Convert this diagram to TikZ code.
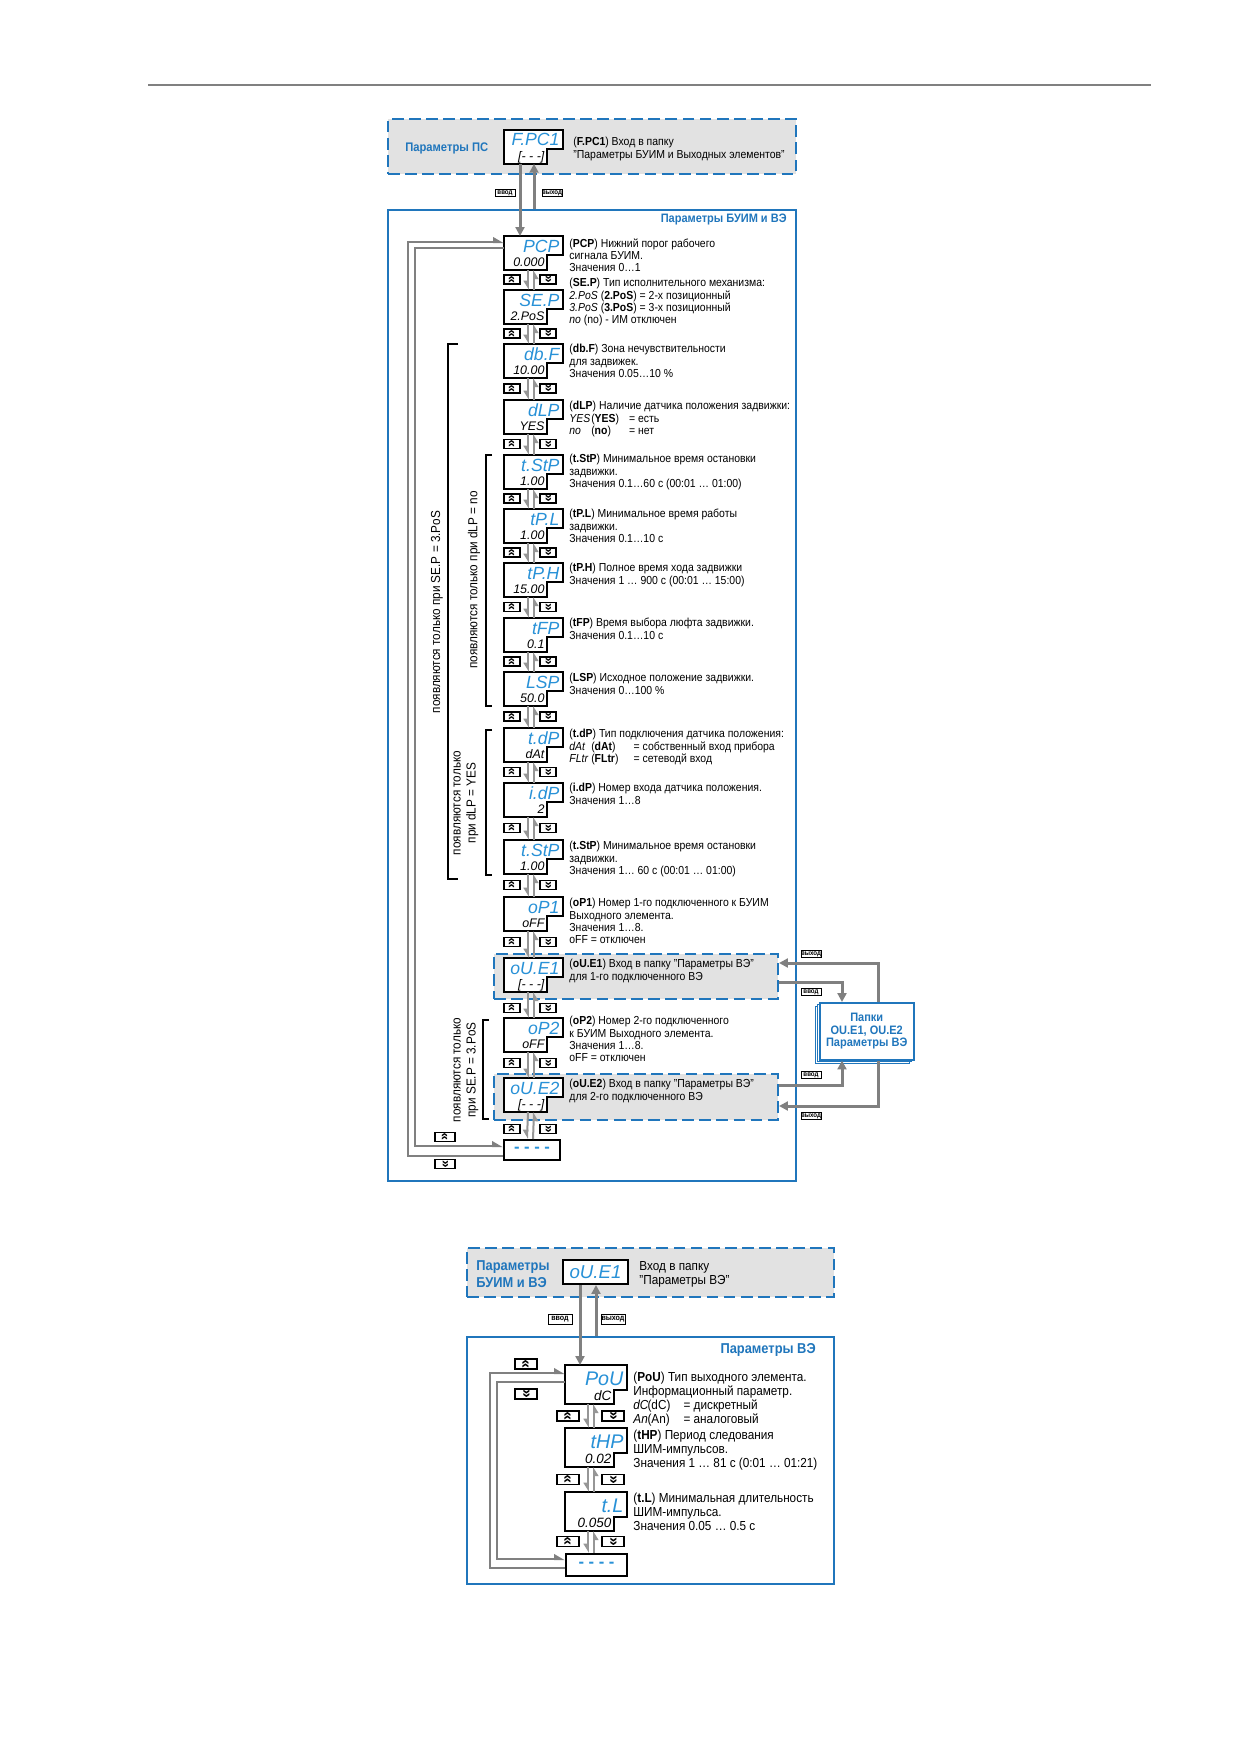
\documentclass[tikz,border=0pt]{standalone}
\usepackage{fontspec}
\setmainfont{Liberation Sans}[FakeStretch=0.9]
\newfontfamily\segfont{Liberation Sans}
\usepackage{graphicx}
\usetikzlibrary{calc}
\usetikzlibrary{arrows.meta}
\newcommand*{\px   }{0.16949mm}
\newcommand*{\lcdw }{58}
\newcommand*{\lcdh }{33}
\newcommand*{\lcdn }{16}
\newcommand*{\lcdu }{19}
\newcommand*{\lcdb }{16}
\newcommand*{\navx }{24}
\newcommand*{\fsz}[2]{\fontsize{#1}{#2}\selectfont}
\newcommand*{\keyup}{\rotatebox{90}{\segfont\bfseries »}}
\newcommand*{\keydn}{\rotatebox{-90}{\segfont\bfseries »}}
\newcommand*{\segc}[1]{\textit{#1}}
\definecolor{owenblue}{RGB}{32,118,188}
\definecolor{segblue}{RGB}{40,145,215}
\definecolor{panelgray}{RGB}{226,226,226}
\definecolor{linegray}{RGB}{128,128,128}
\definecolor{navgray}{RGB}{150,150,150}
\tikzset{
  panel/.style={draw=owenblue, line width=2*\px, inner sep=0, anchor=north west},
  dashpanel/.style={panel, fill=panelgray, dash pattern=on 2mm off 0.9mm},
  lcdframe/.style={rectangle, inner sep=0, minimum width=\lcdw*\px, minimum height=\lcdh*\px},
  lcdedge/.style={draw=black, fill=white, line width=2*\px},
  segup/.style={inner sep=0, text=segblue, font=\segfont\fsz{8.5}{9}\itshape},
  seglow/.style={inner sep=0, font=\segfont\fsz{6}{7}\itshape},
  endbox/.style={draw=black, fill=white, line width=2*\px, anchor=north west, inner sep=0, minimum width=56*\px, minimum height=20*\px, text=segblue, font=\segfont\fsz{8}{8}\bfseries},
  keybtn/.style={draw=black, fill=white, line width=1.2*\px, inner sep=0, minimum width=16*\px, minimum height=9*\px, font=\fsz{6.5}{6.5}},
  keytag/.style={draw=black, fill=white, line width=1*\px, inner sep=0, minimum width=20*\px, minimum height=7*\px, font=\fsz{3.3}{3.4}\bfseries},
  desc/.style={anchor=north west, inner sep=0, align=left},
  navline/.style={draw=navgray, line width=2*\px, -{Triangle[right, length=1.3mm, width=1.5mm]}},
  loopline/.style={draw=linegray, line width=2.5*\px, -{Triangle[left, length=1.5mm, width=1.6mm]}},
  bigarrow/.style={draw=linegray, line width=3*\px, -{Triangle[length=1.5mm, width=1.5mm]}},
  bracket/.style={draw=black, line width=2*\px},
  sidenote/.style={rotate=90, align=center, inner sep=0, font=\fsz{6.3}{7.2}},
  folderbox/.style={draw=owenblue, fill=white, line width=1*\px, anchor=north west, inner sep=0, minimum width=94*\px, minimum height=57*\px},
}
\newcommand{\lcdbox}[5]{%
  \node[lcdframe, anchor=north west] (#1) at (#2,#3) {};
  \draw[lcdedge] (#1.north west) -- (#1.north east) -- ++(0,\lcdu) -- ++(-\lcdn,0) |- (#1.south west) -- cycle;
  \node[segup, anchor=base east] (#1up) at ($(#1.north east)+(-3,\lcdb)$) {#4};
  \node[seglow, anchor=base east] (#1lo) at ($(#1.south east)+(-\lcdn-2,-3)$) {#5};
}
\newcommand{\keypair}[4]{%
  \node[keybtn] (#1u) at (#2,#4) {\keyup};
  \node[keybtn] (#1d) at (#3,#4) {\keydn};
}
\newcommand{\navlink}[2]{%
  \draw[navline] ($(#1.south west)+(\navx,0)$) -- ($(#2.north west)+(\navx,0)$);
  \draw[navline] ($(#2.north west)+(\navx+6,0)$) -- ($(#1.south west)+(\navx+6,0)$);
}

\begin{document}
\begin{tikzpicture}[x=\px, y=-\px, font=\fsz{5.6}{5.95}]
    \fill[white] (0,0) rectangle (1239,1752);
    \useasboundingbox (0,0) rectangle (1239,1752);
    \draw[linegray, line width=2*\px] (148,85) -- (1151,85);

    \node[dashpanel, minimum width=408*\px, minimum height=55*\px] (pcbox) at (387,118) {};
    \node[anchor=west, text=owenblue, font=\fsz{6}{6.5}\bfseries] (pctitle) at (398,148) {Параметры ПС};
    \node[panel, minimum width=408*\px, minimum height=971*\px] (buim) at (387,209) {};
    \node[anchor=north east, inner sep=0, text=owenblue, font=\fsz{5.9}{6.5}\bfseries] (buimtitle) at (787,214) {Параметры БУИМ и ВЭ};
    \node[dashpanel, minimum width=284*\px, minimum height=45*\px] (ouebox1) at (493,953) {};
    \node[dashpanel, minimum width=284*\px, minimum height=46*\px] (ouebox2) at (493,1073) {};

    \lcdbox{fpc}{504}{130}{F.PC1}{[- - -]}
    \lcdbox{pcp}{504}{236}{PCP}{0.000}
    \lcdbox{sep}{504}{290}{SE.P}{2.PoS}
    \lcdbox{dbf}{504}{344}{db.F}{10.00}
    \lcdbox{dlp}{504}{400}{dLP}{YES}
    \lcdbox{tstp}{504}{455}{t.StP}{1.00}
    \lcdbox{tpl}{504}{509}{tP.L}{1.00}
    \lcdbox{tph}{504}{563}{tP.H}{15.00}
    \lcdbox{tfp}{504}{618}{tFP}{0.1}
    \lcdbox{lsp}{504}{672}{LSP}{50.0}
    \lcdbox{tdp}{504}{728}{t.dP}{dAt}
    \lcdbox{idp}{504}{783}{i.dP}{2}
    \lcdbox{tstpb}{504}{840}{t.StP}{1.00}
    \lcdbox{opa}{504}{897}{oP1}{oFF}
    \lcdbox{ouea}{504}{958}{oU.E1}{[- - -]}
    \lcdbox{opb}{504}{1018}{oP2}{oFF}
    \lcdbox{oueb}{504}{1078}{oU.E2}{[- - -]}
    \node[endbox] (enda) at (503,1139) {- - - -};

    \node[desc] (fpcd) at (573,137) {(\textbf{F.PC1}) Вход в папку\\"Параметры БУИМ и Выходных элементов"};
    \node[desc] (pcpd) at (569,238) {(\textbf{PCP}) Нижний порог рабочего\\сигнала БУИМ.\\Значения 0…1};
    \node[desc] (sepd) at (569,278) {(\textbf{SE.P}) Тип исполнительного механизма:\\\segc{2.PoS} (\textbf{2.PoS}) = 2-х позиционный\\\segc{3.PoS} (\textbf{3.PoS}) = 3-х позиционный\\\segc{no} (no) - ИМ отключен};
    \node[desc] (dbfd) at (569,344) {(\textbf{db.F}) Зона нечувствительности\\для задвижек.\\Значения 0.05…10 \%};
    \node[desc] (dlpd) at (569,401) {(\textbf{dLP}) Наличие датчика положения задвижки:\\\makebox[3.7mm][l]{\segc{YES}}\makebox[6.4mm][l]{(\textbf{YES})}= есть\\\makebox[3.7mm][l]{\segc{no}}\makebox[6.4mm][l]{(\textbf{no})}= нет};
    \node[desc] (tstpd) at (569,454) {(\textbf{t.StP}) Минимальное время остановки\\задвижки.\\Значения 0.1…60 с (00:01 … 01:00)};
    \node[desc] (tpld) at (569,509) {(\textbf{tP.L}) Минимальное время работы\\задвижки.\\Значения 0.1…10 с};
    \node[desc] (tphd) at (569,563) {(\textbf{tP.H}) Полное время хода задвижки\\Значения 1 … 900 с (00:01 … 15:00)};
    \node[desc] (tfpd) at (569,618) {(\textbf{tFP}) Время выбора люфта задвижки.\\Значения 0.1…10 с};
    \node[desc] (lspd) at (569,673) {(\textbf{LSP}) Исходное положение задвижки.\\Значения 0…100 \%};
    \node[desc] (tdpd) at (569,729) {(\textbf{t.dP}) Тип подключения датчика положения:\\\makebox[3.7mm][l]{\segc{dAt}}\makebox[7.2mm][l]{(\textbf{dAt})}= собственный вход прибора\\\makebox[3.7mm][l]{\segc{FLtr}}\makebox[7.2mm][l]{(\textbf{FLtr})}= сетеводй вход};
    \node[desc] (idpd) at (569,783) {(\textbf{i.dP}) Номер входа датчика положения.\\Значения 1…8};
    \node[desc] (tstpbd) at (569,841) {(\textbf{t.StP}) Минимальное время остановки\\задвижки.\\Значения 1… 60 с (00:01 … 01:00)};
    \node[desc] (opad) at (569,898) {(\textbf{oP1}) Номер 1-го подключенного к БУИМ\\Выходного элемента.\\Значения 1…8.\\oFF = отключен};
    \node[desc] (oueAd) at (569,959) {(\textbf{oU.E1}) Вход в папку "Параметры ВЭ"\\для 1-го подключенного ВЭ};
    \node[desc] (opbd) at (569,1016) {(\textbf{oP2}) Номер 2-го подключенного\\к БУИМ Выходного элемента.\\Значения 1…8.\\oFF = отключен};
    \node[desc] (oueBd) at (569,1079) {(\textbf{oU.E2}) Вход в папку "Параметры ВЭ"\\для 2-го подключенного ВЭ};

    \foreach \a/\b in {pcp/sep, sep/dbf, dbf/dlp, dlp/tstp, tstp/tpl, tpl/tph, tph/tfp, tfp/lsp, lsp/tdp, tdp/idp, idp/tstpb, tstpb/opa, opa/ouea, ouea/opb, opb/oueb, oueb/enda}
        \navlink{\a}{\b};
    \foreach \k/\y in {a/279.5, b/333.5, c/388.5, d/444, e/498.5, f/552.5, g/607, h/661.5, i/716.5, j/772, k/828, l/885, m/942, n/1008, o/1063, p/1129}
        \keypair{key\k}{512}{548}{\y};

    \draw[bigarrow] ($(fpc.south west)+(16,0)$) -- ($(pcp.north west)+(16,0)$);
    \coordinate (fpcup) at ($(fpc.south west)+(30,0)$);
    \draw[bigarrow] (fpcup |- buim.north) -- (fpcup);
    \node[keytag] (taginA) at (505,193) {ввод};
    \node[keytag] (tagoutA) at (552,193) {выход};

    \draw[loopline] ($(enda.south west)+(0,-5)$) -- ++(-95,0) |- ($(pcp.north west)+(0,6)$);
    \draw[loopline] ($(pcp.north west)+(0,12)$) -- ++(-89,0) |- ($(enda.north west)+(0,7)$);
    \node[keybtn, minimum width=20*\px, minimum height=9*\px] (loopu) at (445,1137) {\keyup};
    \node[keybtn, minimum width=20*\px, minimum height=9*\px] (loopd) at (445,1164) {\keydn};

    \draw[bracket] (458,344) -| (448,879) -- (458,879);
    \draw[bracket] (492,455) -| (486,706) -- (492,706);
    \draw[bracket] (492,730) -| (486,875) -- (492,875);
    \draw[bracket] (489,1020) -| (483,1119) -- (489,1119);
    \node[sidenote] (seplabel) at (437,612) {появляются только при SE.P = 3.PoS};
    \node[sidenote] (nolabel) at (474,580) {появляются только при dLP = no};
    \node[sidenote] (yeslabel) at (466,803) {появляются только\\при dLP = YES};
    \node[sidenote] (poslabel) at (466,1070) {появляются только\\при SE.P = 3.PoS};

    \node[folderbox] (folderc) at (815,1006) {};
    \node[folderbox] (folderb) at (817,1004) {};
    \node[folderbox, line width=1.5*\px, align=center, text=owenblue, font=\fsz{5.9}{6}\bfseries] (folders) at (819,1002) {Папки\\OU.E1, OU.E2\\Параметры ВЭ};
    \draw[bigarrow] ($(folders.north west)+(59,0)$) |- ($(ouebox1.north east)+(0,10)$);
    \draw[bigarrow] ($(ouebox1.north east)+(0,29)$) -| ($(folders.north west)+(23,0)$);
    \draw[bigarrow] ($(ouebox2.north east)+(0,12)$) -| ($(folders.south west)+(23,0)$);
    \draw[bigarrow] ($(folders.south west)+(59,0)$) |- ($(ouebox2.north east)+(0,33)$);
    \node[keytag] (tagoutB) at (811,954) {выход};
    \node[keytag] (taginB) at (811,992) {ввод};
    \node[keytag] (taginC) at (811,1075) {ввод};
    \node[keytag] (tagoutC) at (811,1116) {выход};

    \begin{scope}[keybtn/.append style={minimum width=22*\px, minimum height=10*\px, font=\fsz{7.5}{7.5}},
                  keytag/.append style={minimum width=24*\px, minimum height=10*\px, font=\fsz{3.8}{3.9}\bfseries},
                  segup/.append style={font=\segfont\fsz{9.5}{10}\itshape},
                  seglow/.append style={font=\segfont\fsz{6.5}{7}\itshape},
                  desc/.append style={font=\fsz{6.3}{6.7}}]
        \renewcommand*{\lcdw}{61}\renewcommand*{\lcdh}{38}\renewcommand*{\lcdn}{13}
        \renewcommand*{\lcdu}{25}\renewcommand*{\lcdb}{20}\renewcommand*{\navx}{23}
        \node[dashpanel, minimum width=367*\px, minimum height=49*\px] (vetop) at (466,1247) {};
        \node[anchor=north west, inner sep=0, align=left, text=owenblue, font=\fsz{6.9}{8.2}\bfseries] (vetitle) at (476,1260) {Параметры\\БУИМ и ВЭ};
        \node[draw=black, fill=white, line width=2*\px, anchor=north west, inner sep=0, minimum width=65*\px, minimum height=24*\px, text=segblue, font=\segfont\fsz{9}{9}\itshape] (ouec) at (562,1259) {oU.E1};
        \node[desc] (ouecd) at (639,1261) {Вход в папку\\"Параметры ВЭ"};
        \node[panel, minimum width=367*\px, minimum height=247*\px] (vebox) at (466,1336) {};
        \node[anchor=east, text=owenblue, font=\fsz{6.9}{7.5}\bfseries] (veboxtitle) at (823,1350) {Параметры ВЭ};

        \lcdbox{pou}{565}{1365}{PoU}{dC}
        \lcdbox{thp}{565}{1428}{tHP}{0.02}
        \lcdbox{tl}{565}{1492}{t.L}{0.050}
        \node[endbox, minimum width=61*\px, minimum height=22*\px] (endb) at (565,1553) {- - - -};

        \node[desc] (poud) at (633,1372) {(\textbf{PoU}) Тип выходного элемента.\\Информационный параметр.\\\makebox[2.4mm][l]{\segc{dC}}\makebox[6.1mm][l]{(dC)}= дискретный\\\makebox[2.4mm][l]{\segc{An}}\makebox[6.1mm][l]{(An)}= аналоговый};
        \node[desc] (thpd) at (633,1430) {(\textbf{tHP}) Период следования\\ШИМ-импульсов.\\Значения 1 … 81 с (0:01 … 01:21)};
        \node[desc] (tld) at (633,1493) {(\textbf{t.L}) Минимальная длительность\\ШИМ-импульса.\\Значения 0.05 … 0.5 с};

        \foreach \a/\b in {pou/thp, thp/tl, tl/endb}
            \navlink{\a}{\b};
        \foreach \k/\y in {q/1416, r/1479.5, s/1541.5}
            \keypair{key\k}{568}{613}{\y};

        \draw[bigarrow] ($(ouec.south west)+(18,0)$) -- ($(pou.north west)+(15,0)$);
        \coordinate (ouecup) at ($(ouec.south west)+(34,0)$);
        \draw[bigarrow] (ouecup |- vebox.north) -- (ouecup);
        \node[keytag] (taginD) at (560,1319) {ввод};
        \node[keytag] (tagoutD) at (613,1319) {выход};

        \draw[loopline] ($(endb.south west)+(0,-9)$) -- ++(-75,0) |- ($(pou.north west)+(0,8)$);
        \draw[loopline] ($(pou.north west)+(0,17)$) -- ++(-68,0) |- ($(endb.north west)+(0,6)$);
        \node[keybtn] (vekeyu) at (526,1364) {\keyup};
        \node[keybtn] (vekeyd) at (526,1394) {\keydn};
    \end{scope}
\end{tikzpicture}
\end{document}
